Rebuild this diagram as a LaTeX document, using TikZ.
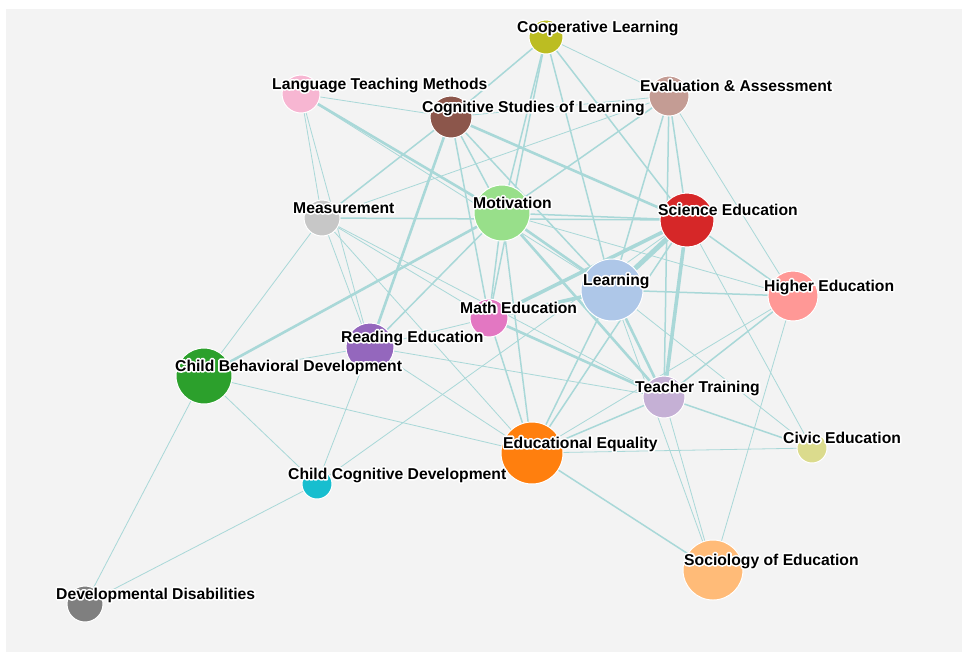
\documentclass[tikz,border=0pt]{standalone}
\usepackage{fontspec}
\setmainfont{Liberation Sans}
\usepackage{tikz}

\definecolor{paper}{HTML}{F3F3F3}
\definecolor{linkc}{HTML}{A9D8D8}
\definecolor{coopc}{HTML}{BCBD22}
\definecolor{langc}{HTML}{F7B6D2}
\definecolor{cogc}{HTML}{8C564B}
\definecolor{evalc}{HTML}{C49C94}
\definecolor{measc}{HTML}{C7C7C7}
\definecolor{motivc}{HTML}{98DF8A}
\definecolor{scic}{HTML}{D62728}
\definecolor{learnc}{HTML}{AEC7E8}
\definecolor{higherc}{HTML}{FF9896}
\definecolor{teachc}{HTML}{C5B0D5}
\definecolor{civicc}{HTML}{DBDB8D}
\definecolor{mathc}{HTML}{E377C2}
\definecolor{readc}{HTML}{9467BD}
\definecolor{cbdc}{HTML}{2CA02C}
\definecolor{ccdc}{HTML}{17BECF}
\definecolor{equalc}{HTML}{FF7F0E}
\definecolor{socc}{HTML}{FFBB78}
\definecolor{devc}{HTML}{7F7F7F}

% white halo under a label (stroked glyphs)
\newcommand\halotext[1]{\rlap{\special{pdf:literal direct 1 1 1 RG 3.4 w 1 j 1 Tr}#1\special{pdf:literal direct 0 Tr}}#1}

\tikzset{%
  topic/.style = {draw=white, line width=1, circle, inner sep=0pt}, % Topic
  link/.style  = {draw=linkc, line cap=round}, % Link
  lbl/.style   = {anchor=base west, inner sep=0pt,
    font=\bfseries\fontsize{15.7}{16}\selectfont} % Label
}
\pgfdeclarelayer{edges}
\pgfsetlayers{edges,main}

\begin{document}
\begin{tikzpicture}[x=1pt, y=-1pt]

  \useasboundingbox (0,0) rectangle (971,657);
  \begin{pgfonlayer}{edges}
    \fill[paper] (6,9) rectangle (962,652);
  \end{pgfonlayer}

  \draw node at (546,37) [topic, fill=coopc, minimum size=34] (coop) {};
  \draw node at (301,94) [topic, fill=langc, minimum size=38] (lang) {};
  \draw node at (451,117) [topic, fill=cogc, minimum size=42] (cog) {};
  \draw node at (669,96) [topic, fill=evalc, minimum size=40] (eval) {};
  \draw node at (322,218) [topic, fill=measc, minimum size=36] (meas) {};
  \draw node at (502,213) [topic, fill=motivc, minimum size=56] (motiv) {};
  \draw node at (687,220) [topic, fill=scic, minimum size=54] (sci) {};
  \draw node at (612,290) [topic, fill=learnc, minimum size=62] (learn) {};
  \draw node at (793,296) [topic, fill=higherc, minimum size=50] (higher) {};
  \draw node at (664,397) [topic, fill=teachc, minimum size=42] (teach) {};
  \draw node at (812,448) [topic, fill=civicc, minimum size=30] (civic) {};
  \draw node at (489,318) [topic, fill=mathc, minimum size=38] (math) {};
  \draw node at (370,347) [topic, fill=readc, minimum size=48] (read) {};
  \draw node at (204,376) [topic, fill=cbdc, minimum size=56] (cbd) {};
  \draw node at (317,484) [topic, fill=ccdc, minimum size=30] (ccd) {};
  \draw node at (532,453) [topic, fill=equalc, minimum size=62] (equal) {};
  \draw node at (713,570) [topic, fill=socc, minimum size=60] (soc) {};
  \draw node at (85,604) [topic, fill=devc, minimum size=36] (dev) {};

  \begin{pgfonlayer}{edges}
    % weak links
    \foreach \a/\b in {coop/eval, lang/cog, lang/learn, lang/meas, lang/read,
      cog/eval, eval/meas, eval/higher, meas/cbd, meas/read, meas/math,
      meas/equal, meas/teach, motiv/higher, sci/civic, learn/civic, learn/soc,
      math/read, teach/soc, higher/equal, higher/soc, equal/cbd, ccd/sci,
      equal/civic, equal/read, cbd/read, cbd/ccd, cbd/dev, ccd/dev, ccd/read,
      read/teach}
      \draw[link, line width=0.8] (\a) -- (\b);
    % medium links
    \foreach \a/\b in {coop/cog, coop/motiv, coop/math, coop/learn, coop/sci,
      cog/meas, cog/math, cog/motiv, cog/learn, eval/motiv, eval/learn,
      eval/teach, eval/sci, meas/sci, motiv/sci, motiv/math, motiv/read,
      motiv/equal, sci/higher, sci/equal, learn/higher, learn/equal,
      math/equal, teach/equal, teach/civic, teach/higher, equal/soc}
      \draw[link, line width=1.5] (\a) -- (\b);
    % strong links
    \foreach \a/\b in {lang/motiv, cog/sci, cog/read, motiv/learn, motiv/cbd,
      motiv/teach, learn/teach, math/teach}
      \draw[link, line width=2.6] (\a) -- (\b);
    \foreach \a/\b in {sci/math, sci/teach, learn/math}
      \draw[link, line width=3.6] (\a) -- (\b);
    \draw[link, line width=5] (sci) -- (learn);
  \end{pgfonlayer}

  \foreach \n/\t in {coop/Cooperative Learning, lang/Language Teaching Methods,
    cog/Cognitive Studies of Learning, eval/Evaluation \& Assessment,
    meas/Measurement, motiv/Motivation, sci/Science Education,
    learn/Learning, higher/Higher Education, teach/Teacher Training,
    civic/Civic Education, math/Math Education, read/Reading Education,
    cbd/Child Behavioral Development, ccd/Child Cognitive Development,
    equal/Educational Equality, soc/Sociology of Education,
    dev/Developmental Disabilities}
    \node[lbl] at ([shift={(-29,-5)}]\n.center) {\halotext{\t}};

\end{tikzpicture}
\end{document}
